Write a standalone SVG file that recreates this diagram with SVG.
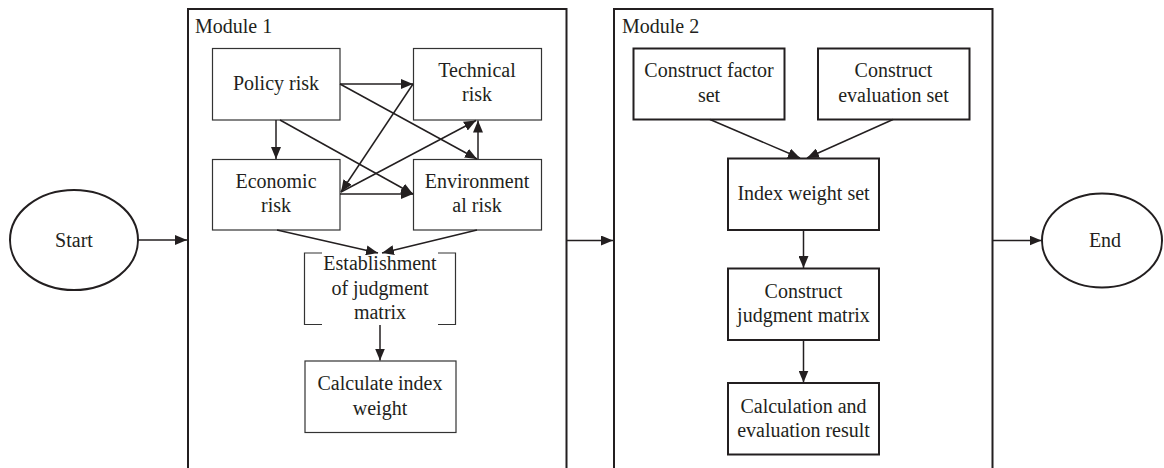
<svg xmlns="http://www.w3.org/2000/svg" width="1164" height="468" viewBox="0 0 1164 468">
<defs>
<style>
text{font-family:"Liberation Serif","Times New Roman",serif;font-size:20px;fill:#231f20}
.c{text-anchor:middle}
.mod{fill:none;stroke:#231f20;stroke-width:2}
.b1{fill:#fff;stroke:#333;stroke-width:1.2}
.b2{fill:#fff;stroke:#231f20;stroke-width:2}
.ell{fill:#fff;stroke:#231f20;stroke-width:2}
.ln{fill:none;stroke:#231f20;stroke-width:1.5;marker-end:url(#ah)}
</style>
<marker id="ah" markerUnits="userSpaceOnUse" viewBox="0 0 12 10" refX="12" refY="5" markerWidth="12" markerHeight="10" orient="auto">
<path d="M0,0 L12,5 L0,10 z" fill="#231f20"/>
</marker>
</defs>
<rect width="1164" height="468" fill="#fff"/>
<g id="module1">
<path class="mod" d="M188,475 V9 H566.5 V475"/>
<text x="195" y="33">Module 1</text>
</g>
<g id="module2">
<path class="mod" d="M614,475 V9 H992.5 V475"/>
<text x="622" y="33">Module 2</text>
</g>
<g id="start">
<ellipse class="ell" cx="74" cy="240" rx="64" ry="50"/>
<text class="c" x="74" y="247">Start</text>
</g>
<g id="end">
<ellipse class="ell" cx="1102" cy="240.5" rx="60" ry="47"/>
<text class="c" x="1105" y="247">End</text>
</g>
<g id="policy">
<rect class="b1" x="212.5" y="48.5" width="127.5" height="71.5"/>
<text class="c" x="276" y="90">Policy risk</text>
</g>
<g id="technical">
<rect class="b1" x="413.5" y="48.5" width="128" height="71.5"/>
<text class="c" x="477" y="77">Technical</text>
<text class="c" x="477" y="101">risk</text>
</g>
<g id="economic">
<rect class="b1" x="212.5" y="159.5" width="127.5" height="70.5"/>
<text class="c" x="276" y="188">Economic</text>
<text class="c" x="276" y="212">risk</text>
</g>
<g id="environmental">
<rect class="b1" x="413.5" y="159.5" width="128" height="70.5"/>
<text class="c" x="477" y="188">Environment</text>
<text class="c" x="477" y="212">al risk</text>
</g>
<g id="establishment">
<path fill="none" stroke="#333" stroke-width="1.2" d="M322,253 H304.5 V324.5 H322 M438,253 H455.5 V324.5 H438"/>
<text class="c" x="380" y="270">Establishment</text>
<text class="c" x="380" y="295">of judgment</text>
<text class="c" x="380" y="319">matrix</text>
</g>
<g id="calc-weight">
<rect class="b1" x="305" y="361" width="151" height="71.5"/>
<text class="c" x="380" y="390">Calculate index</text>
<text class="c" x="380" y="415">weight</text>
</g>
<g id="factor">
<rect class="b2" x="633.5" y="48.5" width="151" height="71"/>
<text class="c" x="709" y="77">Construct factor</text>
<text class="c" x="709" y="102">set</text>
</g>
<g id="evaluation">
<rect class="b2" x="818" y="48.5" width="151.5" height="71"/>
<text class="c" x="893.5" y="77">Construct</text>
<text class="c" x="893.5" y="102">evaluation set</text>
</g>
<g id="index">
<rect class="b2" x="728" y="158.5" width="151" height="71.5"/>
<text class="c" x="803.5" y="200">Index weight set</text>
</g>
<g id="judgment">
<rect class="b2" x="728" y="268.5" width="151" height="71.5"/>
<text class="c" x="803.5" y="298">Construct</text>
<text class="c" x="803.5" y="322">judgment matrix</text>
</g>
<g id="result">
<rect class="b2" x="728" y="383" width="151" height="71.5"/>
<text class="c" x="803.5" y="413">Calculation and</text>
<text class="c" x="803.5" y="437">evaluation result</text>
</g>
<g id="connectors">
<line class="ln" x1="138" y1="240" x2="187" y2="240"/>
<line class="ln" x1="567" y1="240.5" x2="613" y2="240.5"/>
<line class="ln" x1="993" y1="240.5" x2="1041.5" y2="240.5"/>
<line class="ln" x1="340" y1="84" x2="413" y2="84"/>
<line class="ln" x1="340" y1="84" x2="477" y2="159"/>
<line class="ln" x1="276" y1="120" x2="276" y2="159"/>
<line class="ln" x1="280" y1="120" x2="413" y2="194"/>
<line class="ln" x1="340" y1="194" x2="413" y2="194"/>
<line class="ln" x1="413" y1="84" x2="341" y2="192"/>
<line class="ln" x1="341" y1="192" x2="476" y2="120.5"/>
<line class="ln" x1="478" y1="159" x2="478" y2="120.5"/>
<line class="ln" x1="277" y1="230" x2="378" y2="253"/>
<line class="ln" x1="477" y1="230" x2="382" y2="253"/>
<line class="ln" x1="380" y1="325" x2="380" y2="360.5"/>
<line class="ln" x1="710" y1="119.5" x2="800" y2="158"/>
<line class="ln" x1="893" y1="119.5" x2="807" y2="158"/>
<line class="ln" x1="803.5" y1="230" x2="803.5" y2="268"/>
<line class="ln" x1="803.5" y1="340" x2="803.5" y2="382.5"/>
</g>
</svg>
